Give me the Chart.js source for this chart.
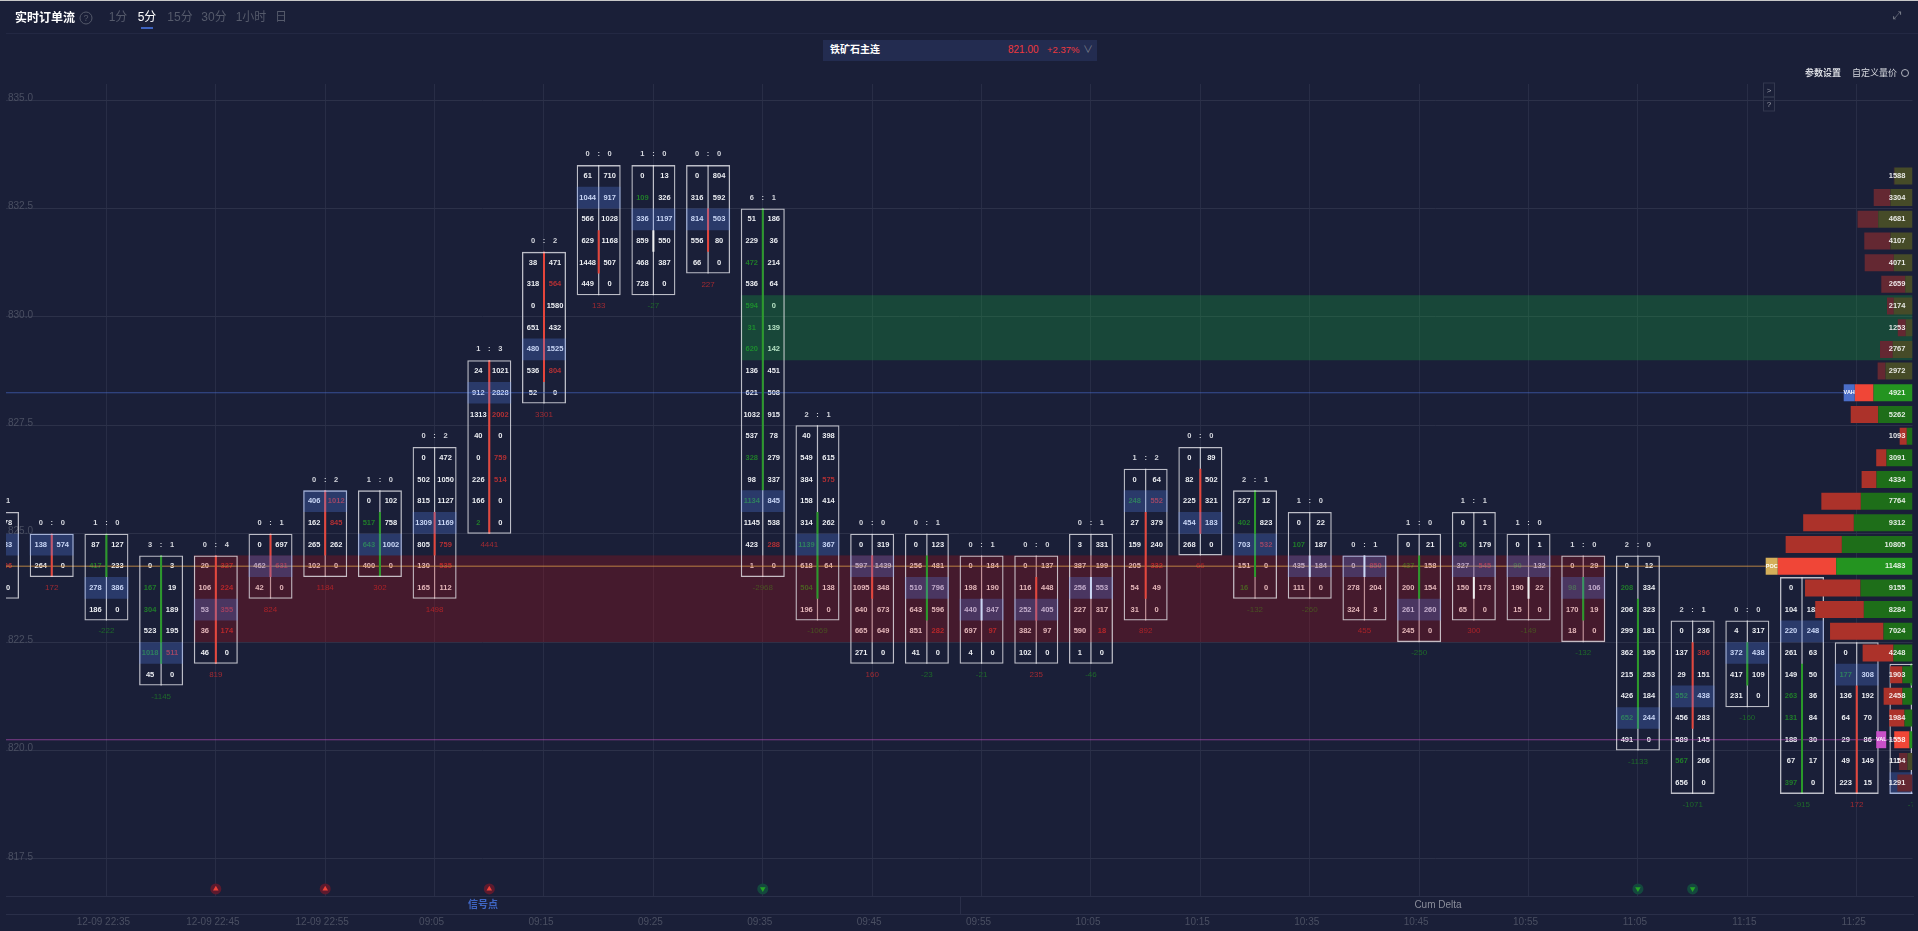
<!DOCTYPE html>
<html>
<head>
<meta charset="utf-8">
<title>实时订单流</title>
<script src="https://cdn.jsdelivr.net/npm/chart.js@4"></script>
<style>
  html, body { margin: 0; padding: 0; background: #1a1f38; overflow: hidden; }
  body { width: 1918px; height: 931px; position: relative; font-family: "Liberation Sans", "Noto Sans CJK SC", sans-serif; }
  canvas { position: absolute; left: 0; top: 0; }
  .t { position: absolute; white-space: nowrap; line-height: 14px; transform: translate(-50%, -50%); }
  .l { position: absolute; white-space: nowrap; line-height: 14px; transform: translateY(-50%); }
  .rule { position: absolute; background: #2a2f49; }
  .tab { color: #555a6b; font-size: 12px; }
</style>
</head>
<body>
<canvas id="flow" width="1918" height="931"></canvas>

<div class="rule" style="left:0;top:0;width:1918px;height:1px;background:#c8c8c8"></div>
<div class="rule" style="left:6px;top:33px;width:1912px;height:1px;background:#232843"></div>
<div class="l" style="left:15px;top:18px;color:#fff;font-size:12px;font-weight:bold">实时订单流</div>
<div class="t" style="left:86px;top:18px;width:11px;height:11px;line-height:11px;border:1px solid #555a6b;border-radius:50%;color:#555a6b;font-size:9px;text-align:center">?</div>
<div class="t tab" style="left:118px;top:17px">1分</div>
<div class="t tab" style="left:147px;top:17px;color:#fff">5分</div>
<div class="rule" style="left:141px;top:27px;width:12px;height:2px;background:#3e63c0"></div>
<div class="t tab" style="left:180px;top:17px">15分</div>
<div class="t tab" style="left:214px;top:17px">30分</div>
<div class="t tab" style="left:251px;top:17px">1小时</div>
<div class="t tab" style="left:281px;top:17px">日</div>
<div class="t" style="left:1897px;top:16px;color:#777b88;font-size:11px;font-family:'DejaVu Sans'">⤢</div>

<div class="rule" style="left:823px;top:40px;width:274px;height:21px;background:#232c50"></div>
<div class="l" style="left:830px;top:50px;color:#fff;font-size:10px;font-weight:bold">铁矿石主连</div>
<div class="l" style="left:1008px;top:50px;color:#f0383d;font-size:10px">821.00</div>
<div class="l" style="left:1047px;top:50px;color:#f0383d;font-size:9.5px">+2.37%</div>
<div class="t" style="left:1088px;top:50px;color:#777b88;font-size:10px">∨</div>
<div class="l" style="left:1805px;top:73px;color:#d8dae0;font-size:9px;font-weight:bold">参数设置</div>
<div class="l" style="left:1852px;top:73px;color:#d8dae0;font-size:9px">自定义量价</div>
<div class="t" style="left:1905px;top:73px;width:6px;height:6px;border:1px solid #b0b3bd;border-radius:50%"></div>
<div class="t" style="left:1769px;top:90px;width:10px;height:13px;line-height:13px;border:1px solid #33384f;color:#9a9da8;font-size:8px;text-align:center">&gt;</div>
<div class="t" style="left:1769px;top:104px;width:10px;height:13px;line-height:13px;border:1px solid #33384f;color:#9a9da8;font-size:8px;text-align:center">?</div>

<div class="rule" style="left:6px;top:896px;width:1908px;height:1px"></div>
<div class="rule" style="left:6px;top:914px;width:1908px;height:1px"></div>
<div class="rule" style="left:960px;top:896px;width:1px;height:18px"></div>
<div class="t" style="left:483px;top:905px;color:#3f66c4;font-size:10px;font-weight:bold">信号点</div>
<div class="t" style="left:1438px;top:905px;color:#8a8d9a;font-size:10px">Cum Delta</div>

<script>
// axis
const tickLabels = ['12-09 22:35', '12-09 22:45', '12-09 22:55', '09:05', '09:15', '09:25', '09:35', '09:45', '09:55',
    '10:05', '10:15', '10:35', '10:45', '10:55', '11:05', '11:15', '11:25'];

// footprint per 5 min bar, rows go from the top price downwards, one row is 0.5
const topPrice = [825.5, 825, 825, 824.5, 824.5, 825, 826, 826, 827, 829, 831.5, 833.5, 833.5, 833.5, 832.5, 827.5, 825, 825,
    824.5, 824.5, 825, 826.5, 827, 826, 825.5, 824.5, 825, 825.5, 825, 824.5, 824.5, 823, 823, 824, 822.5, 822];
const bidVol = [
    [0, 0, 0, 0],
    [138, 264],
    [87, 417, 278, 186],
    [0, 167, 304, 523, 1018, 45],
    [20, 106, 53, 36, 46],
    [0, 462, 42],
    [406, 162, 265, 102],
    [0, 517, 643, 400],
    [0, 502, 815, 1309, 805, 130, 165],
    [24, 912, 1313, 40, 0, 226, 166, 2],
    [38, 318, 0, 651, 480, 536, 52],
    [61, 1044, 566, 629, 1448, 449],
    [0, 109, 336, 859, 468, 728],
    [0, 316, 814, 556, 66],
    [51, 229, 472, 536, 594, 31, 620, 136, 621, 1032, 537, 328, 98, 1134, 1145, 423, 1],
    [40, 549, 384, 158, 314, 1139, 618, 504, 196],
    [0, 597, 1095, 640, 665, 271],
    [0, 256, 510, 643, 851, 41],
    [0, 198, 440, 697, 4],
    [0, 116, 252, 382, 102],
    [3, 387, 256, 227, 590, 1],
    [0, 248, 27, 159, 205, 54, 31],
    [0, 82, 225, 454, 268],
    [227, 402, 703, 151, 16],
    [0, 107, 435, 111],
    [0, 278, 324],
    [0, 437, 200, 261, 245],
    [0, 56, 327, 150, 65],
    [0, 90, 190, 15],
    [0, 98, 170, 18],
    [0, 208, 206, 299, 362, 215, 426, 652, 491],
    [0, 137, 29, 552, 456, 589, 567, 656],
    [4, 372, 417, 231],
    [0, 104, 220, 261, 149, 263, 131, 188, 67, 397],
    [0, 177, 136, 64, 29, 49, 223],
    [0, 0, 0, 0, 11, 12]
];
const askVol = [
    [78, 83, 96, 0],
    [574, 0],
    [127, 233, 386, 0],
    [3, 19, 189, 195, 511, 0],
    [327, 224, 355, 174, 0],
    [697, 631, 0],
    [1012, 845, 262, 0],
    [102, 758, 1002, 0],
    [472, 1050, 1127, 1169, 759, 535, 112],
    [1021, 2828, 2002, 0, 759, 514, 0, 0],
    [471, 564, 1580, 432, 1525, 804, 0],
    [710, 917, 1028, 1168, 507, 0],
    [13, 326, 1197, 550, 387, 0],
    [804, 592, 503, 80, 0],
    [186, 36, 214, 64, 0, 139, 142, 451, 508, 915, 78, 279, 337, 845, 538, 288, 0],
    [398, 615, 575, 414, 262, 367, 64, 138, 0],
    [319, 1439, 348, 673, 649, 0],
    [123, 481, 796, 596, 282, 0],
    [184, 190, 847, 97, 0],
    [137, 448, 405, 97, 0],
    [331, 199, 553, 317, 18, 0],
    [64, 552, 379, 240, 332, 49, 0],
    [89, 502, 321, 183, 0],
    [12, 823, 532, 0, 0],
    [22, 187, 184, 0],
    [850, 204, 3],
    [21, 158, 154, 260, 0],
    [1, 179, 545, 173, 0],
    [1, 132, 22, 0],
    [29, 106, 19, 0],
    [12, 334, 323, 181, 195, 253, 184, 244, 0],
    [236, 396, 151, 438, 283, 145, 266, 0],
    [317, 438, 109, 0],
    [45, 183, 248, 63, 50, 36, 84, 30, 17, 0],
    [20, 308, 192, 70, 86, 149, 15],
    [0, 0, 0, 0, 0, 0]
];
const highlightRow = [1, 0, 2, 4, 2, 1, 0, 2, 3, 1, 4, 1, 2, 2, 13, 5, 1, 2, 2, 2, 2, 1, 3, 2, 2, 0, 3, 2, 1, 1, 7, 3, 1, 2, 1, 5];
const buyStacks = [0, 0, 1, 3, 0, 0, 0, 1, 0, 1, 0, 0, 1, 0, 6, 2, 0, 0, 0, 0, 0, 1, 0, 2, 1, 0, 1, 1, 1, 1, 2, 2, 0, 1, 0, 0];
const sellStacks = [1, 0, 0, 1, 4, 1, 2, 0, 2, 3, 2, 0, 0, 0, 1, 1, 0, 1, 1, 0, 1, 2, 0, 1, 0, 1, 0, 1, 0, 0, 0, 1, 0, 0, 1, 0];
const barDelta = [null, 172, -222, -1145, 819, 824, 1184, 302, 1498, 4441, 3301, 133, -27, 227, -2968, -1069, 160, -23, -21, 235,
    -46, 892, 66, -132, -260, 455, -250, 300, -149, -132, -1133, -1071, -160, -915, 172, -7];
// open / close body on the centre line
const bodyHigh = [825.5, 825, 825, 824.5, 824.5, 825, 826, 825.5, 825.5, 829, 831.5, 832, 832, 832.5, 832.5, 825.5, 824.5, 824.5,
    823.5, 824, 824, 825.5, 826.5, 826, 824.5, 824.5, 824.5, 824, 824, 824, 823.5, 822.5, 822.5, 822, 821.5, 822];
const bodyLow = [825, 824, 824, 822, 822, 824, 824.5, 824, 824.5, 825, 828.5, 831, 831.5, 831.5, 826, 823.5, 823.5, 823,
    823, 823, 823.5, 823.5, 825, 824, 824, 824, 823.5, 823.5, 823.5, 823, 820.5, 820.5, 821.5, 819, 819, 821.5];
const bodySide = ['g', 'r', 'g', 'g', 'r', 'r', 'r', 'g', 'r', 'r', 'r', 'r', 'w', 'r', 'g', 'g', 'r', 'g',
    'w', 'r', 'w', 'r', 'r', 'g', 'w', 'w', 'g', 'w', 'w', 'g', 'g', 'r', 'g', 'g', 'r', 'g'];
// [bar, row] of imbalance cells
const greenBids = [[2, 1], [3, 1], [3, 2], [3, 4], [7, 1], [7, 2], [9, 7], [12, 1], [14, 2], [14, 4], [14, 5], [14, 6], [14, 11], [14, 13],
    [15, 5], [15, 7], [21, 1], [23, 1], [23, 4], [24, 1], [26, 1], [27, 1], [28, 1], [29, 1], [30, 1], [30, 7], [31, 3], [31, 6],
    [33, 5], [33, 6], [33, 9], [34, 1]];
const redAsks = [[0, 2], [3, 4], [4, 0], [4, 1], [4, 2], [4, 3], [5, 1], [6, 0], [6, 1], [8, 4], [8, 5], [9, 2], [9, 4], [9, 5], [10, 1], [10, 5],
    [14, 15], [15, 2], [17, 4], [18, 3], [20, 4], [21, 1], [21, 4], [23, 2], [25, 0], [27, 2], [31, 1]];

// volume profile, lower bound of each price row
const profileLevels = [833, 832.5, 832, 831.5, 831, 830.5, 830, 829.5, 829, 828.5, 828, 827.5, 827, 826.5, 826, 825.5, 825, 824.5, 824,
    823.5, 823, 822.5, 822, 821.5, 821, 820.5, 820, 819.5, 819];
const profileTotal = [1588, 3304, 4681, 4107, 4071, 2659, 2174, 1253, 2767, 2972, 4921, 5262, 1093, 3091, 4334, 7764, 9312, 10805, 11483,
    9155, 8284, 7024, 4248, 1903, 2458, 1984, 1558, 1154, 1291];
const profileBuy = [1540, 1872, 2923, 1872, 1589, 625, 1589, 567, 1674, 2298, 3319, 2923, 482, 2213, 3064, 4397, 4993, 6014, 6497,
    4426, 4142, 2468, 1617, 851, 851, 681, 255, 426, 0];
const profileSell = [48, 1432, 1758, 2235, 2482, 2034, 585, 686, 1093, 674, 1602, 2339, 611, 878, 1270, 3367, 4319, 4791, 4986,
    4729, 4142, 4556, 2631, 1052, 1607, 1303, 1303, 728, 1291];
const pocLevel = 824;
const vahLevel = 828;
const valLevel = 820;

const redZone = [822.5, 824.5];
const greenZone = [829, 830.5];
const redZoneBars = [4, 29];
const greenZoneBar = 14;

const signalUp = [4, 6, 9];
const signalDown = [14, 30, 31];
const signalPrice = 816.81;

const rowSize = 0.5;
const colWidth = 22;
const volPerPx = 1 / 0.01175;

const rowsOf = i => bidVol[i].length;
const barIndex = topPrice.map((p, i) => i);

const boxes = barIndex.map(i => ({ x: i, y: [topPrice[i] - rowsOf(i) * rowSize, topPrice[i]] }));
const bodies = barIndex.map(i => ({ x: i, y: [bodyLow[i], bodyHigh[i]] }));
const cells = barIndex.map(i => {
    const top = topPrice[i] - highlightRow[i] * rowSize;
    return { x: i, y: [top - rowSize, top] };
});
const bodyColors = { r: '#e5453b', g: '#2a9a2a', w: '#f0f0f0' };

const levelShade = (level, dim, normal, bright) => {
    if (level === pocLevel || level === vahLevel || level === valLevel) return bright;
    return (level > vahLevel || level < valLevel) ? dim : normal;
};
const buyColors = profileLevels.map(l => levelShade(l, 'rgb(70,75,40)', 'rgb(30,110,25)', 'rgb(36,148,32)'));
const sellColors = profileLevels.map(l => levelShade(l, 'rgb(100,40,50)', 'rgb(172,50,42)', 'rgb(240,70,55)'));

const includes = (list, i, r) => list.some(c => c[0] === i && c[1] === r);

// text, zones and level lines go right after the first footprint dataset, so the
// highlight cells, boxes and the profile still paint over them
const footprintText = {
    id: 'footprintText',
    afterDatasetDraw(chart, args) {
        if (args.meta.label !== 'divider') return;
        const { ctx, chartArea: area, scales: { x, y, xVol } } = chart;
        ctx.save();
        ctx.beginPath();
        ctx.rect(area.left, area.top, area.right - area.left, area.bottom - area.top);
        ctx.clip();
        ctx.textBaseline = 'middle';
        ctx.textAlign = 'center';

        barIndex.forEach(i => {
            const cx = x.getPixelForValue(i);
            ctx.font = 'bold 7.5px "Liberation Sans"';
            bidVol[i].forEach((bid, r) => {
                const py = y.getPixelForValue(topPrice[i] - (r + 0.5) * rowSize);
                ctx.fillStyle = includes(greenBids, i, r) ? 'rgb(32,125,42)' : '#eceef2';
                ctx.fillText(bid, cx - colWidth / 2, py);
                ctx.fillStyle = includes(redAsks, i, r) ? 'rgb(178,48,52)' : '#eceef2';
                ctx.fillText(askVol[i][r], cx + colWidth / 2, py);
            });
            const ratioY = y.getPixelForValue(topPrice[i] + rowSize / 2);
            ctx.fillStyle = '#d4d6dd';
            ctx.fillText(buyStacks[i], cx - colWidth / 2, ratioY);
            ctx.fillText(':', cx, ratioY);
            ctx.fillText(sellStacks[i], cx + colWidth / 2, ratioY);

            if (barDelta[i] !== null) {
                const deltaY = y.getPixelForValue(topPrice[i] - (rowsOf(i) + 0.5) * rowSize);
                ctx.font = '8px "Liberation Sans"';
                ctx.fillStyle = barDelta[i] < 0 ? 'rgb(30,105,42)' : 'rgb(160,42,50)';
                ctx.fillText(barDelta[i], cx, deltaY);
            }
        });

        // price zones
        const top = y.getPixelForValue(redZone[1]);
        const left = x.getPixelForValue(redZoneBars[0]) - colWidth;
        ctx.fillStyle = 'rgba(200,10,10,0.25)';
        ctx.fillRect(left, top, x.getPixelForValue(redZoneBars[1]) + colWidth - left, y.getPixelForValue(redZone[0]) - top);
        const gTop = y.getPixelForValue(greenZone[1]);
        const gLeft = x.getPixelForValue(greenZoneBar) - colWidth;
        ctx.fillStyle = 'rgba(18,191,60,0.25)';
        ctx.fillRect(gLeft, gTop, area.right - gLeft, y.getPixelForValue(greenZone[0]) - gTop);

        // POC / VAH / VAL lines
        [[pocLevel, 'rgba(214,150,70,0.55)', 1.5], [vahLevel, 'rgba(70,105,200,0.65)', 1.1], [valLevel, 'rgba(195,80,195,0.6)', 1.1]].forEach(([level, color, width]) => {
            const py = y.getPixelForValue(level + rowSize / 2);
            ctx.strokeStyle = color;
            ctx.lineWidth = width;
            ctx.beginPath();
            ctx.moveTo(area.left, py);
            ctx.lineTo(xVol.getPixelForValue(profileTotal[profileLevels.indexOf(level)]), py);
            ctx.stroke();
        });
        ctx.restore();
    },
    afterDatasetsDraw(chart) {
        const { ctx, chartArea: area, scales: { xVol, yVol } } = chart;
        ctx.save();
        ctx.beginPath();
        ctx.rect(area.left, area.top, area.right - area.left, area.bottom - area.top);
        ctx.clip();
        ctx.textBaseline = 'middle';
        // value area tags sit left of their profile row
        ctx.textAlign = 'center';
        [['POC', pocLevel, '#d4af5a', 12, 0], ['VAH', vahLevel, '#4b6ec8', 11, 0], ['VAL', valLevel, '#c850c8', 10, 8]].forEach(([name, level, color, w, gap]) => {
            const right = xVol.getPixelForValue(profileTotal[profileLevels.indexOf(level)]) - gap;
            const py = yVol.getPixelForValue(level + rowSize / 2);
            ctx.fillStyle = color;
            ctx.fillRect(right - w, py - 8.5, w, 17);
            ctx.fillStyle = '#fff';
            ctx.font = 'bold 5.5px "Liberation Sans"';
            ctx.fillText(name, right - w / 2, py);
        });
        ctx.textAlign = 'right';
        ctx.font = 'bold 7.5px "Liberation Sans"';
        ctx.fillStyle = 'rgba(255,255,255,0.88)';
        profileLevels.forEach((level, k) => {
            ctx.fillText(profileTotal[k], xVol.getPixelForValue(600), yVol.getPixelForValue(level + rowSize / 2));
        });
        ctx.restore();
    }
};

const yRange = { min: 816.646, max: 835.37 };

new Chart(document.getElementById('flow'), {
    type: 'bar',
    data: {
        datasets: [
            {
                label: 'divider', order: 9, data: boxes, backgroundColor: 'rgba(235,235,240,0.78)',
                maxBarThickness: 1.2, grouped: false, barPercentage: 1, categoryPercentage: 1, inflateAmount: 0
            },
            {
                label: 'body', order: 8, data: bodies, backgroundColor: barIndex.map(i => bodyColors[bodySide[i]]),
                maxBarThickness: 2, grouped: false, barPercentage: 1, categoryPercentage: 1, inflateAmount: 0
            },
            {
                label: 'box', order: 7, data: boxes, backgroundColor: 'rgba(0,0,0,0)', borderColor: 'rgba(235,235,240,0.78)',
                borderWidth: 1.3, borderSkipped: false, maxBarThickness: 44, grouped: false, barPercentage: 1, categoryPercentage: 1, inflateAmount: 0
            },
            {
                label: 'cell', order: 6, data: cells, backgroundColor: 'rgba(90,140,255,0.25)',
                maxBarThickness: 44, grouped: false, barPercentage: 1, categoryPercentage: 1, inflateAmount: 0
            },
            {
                label: 'buy', order: 2, indexAxis: 'y', xAxisID: 'xVol', yAxisID: 'yVol', stack: 'profile',
                data: profileLevels.map((l, k) => ({ y: l + rowSize / 2, x: profileBuy[k] })), backgroundColor: buyColors,
                maxBarThickness: 17, grouped: false, barPercentage: 1, categoryPercentage: 1, inflateAmount: 0
            },
            {
                label: 'sell', order: 2, indexAxis: 'y', xAxisID: 'xVol', yAxisID: 'yVol', stack: 'profile',
                data: profileLevels.map((l, k) => ({ y: l + rowSize / 2, x: profileSell[k] })), backgroundColor: sellColors,
                maxBarThickness: 17, grouped: false, barPercentage: 1, categoryPercentage: 1, inflateAmount: 0
            },
            {
                type: 'scatter', label: 'up', order: 1, data: signalUp.map(i => ({ x: i, y: signalPrice })),
                pointStyle: 'triangle', pointRadius: 3.2, backgroundColor: '#ee4238', borderWidth: 0
            },
            {
                type: 'scatter', label: 'upHalo', order: 3, data: signalUp.map(i => ({ x: i, y: signalPrice })),
                pointRadius: 5.5, backgroundColor: 'rgb(92,26,46)', borderWidth: 0
            },
            {
                type: 'scatter', label: 'down', order: 1, data: signalDown.map(i => ({ x: i, y: signalPrice })),
                pointStyle: 'triangle', rotation: 180, pointRadius: 3.2, backgroundColor: '#25a425', borderWidth: 0
            },
            {
                type: 'scatter', label: 'downHalo', order: 3, data: signalDown.map(i => ({ x: i, y: signalPrice })),
                pointRadius: 5.5, backgroundColor: 'rgb(20,72,62)', borderWidth: 0
            }
        ]
    },
    options: {
        responsive: false,
        animation: false,
        layout: { padding: { left: 6, right: 4, top: 84, bottom: 0 } },
        plugins: { legend: { display: false }, tooltip: { enabled: false } },
        scales: {
            x: {
                type: 'linear', position: 'bottom', offset: false,
                min: 0.164, max: 35.02,
                grid: { color: '#282d46', offset: false, drawTicks: false },
                border: { display: false },
                afterFit: s => { s.height = 35; },
                ticks: {
                    stepSize: 2, includeBounds: false, autoSkip: false, maxRotation: 0, padding: 20, labelOffset: -3,
                    color: '#4a4f62', font: { family: '"Liberation Sans"', size: 10 },
                    callback: v => tickLabels[v / 2 - 1]
                }
            },
            y: {
                type: 'linear', position: 'left', ...yRange,
                grid: { color: '#2c3149', drawTicks: false },
                border: { display: false },
                afterFit: s => { s.width = 0; },
                ticks: {
                    stepSize: 2.5, includeBounds: false, mirror: true, padding: 2, labelOffset: -2,
                    color: '#4a4f62', font: { family: '"Liberation Sans"', size: 10 },
                    callback: v => v.toFixed(1)
                }
            },
            xVol: { type: 'linear', display: false, stacked: true, reverse: true, offset: false, min: 0, max: 1908 * volPerPx },
            yVol: { type: 'linear', display: false, offset: false, ...yRange }
        }
    },
    plugins: [footprintText]
});
</script>
</body>
</html>
